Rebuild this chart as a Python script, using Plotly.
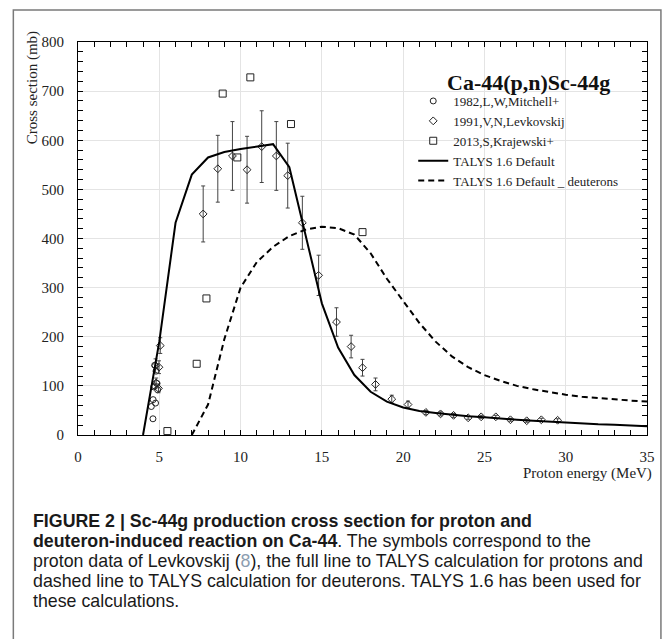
import plotly.graph_objects as go

# ---------------- data ----------------
mitchell_e = [4.51, 4.61, 4.62, 4.70, 4.77, 4.66, 4.72, 4.85, 4.90, 4.80]
mitchell_xs = [58, 33, 72, 100, 65, 98, 142, 105, 92, 130]

levk_e = [4.77, 4.81, 4.95, 4.98, 5.06, 7.7, 8.6, 9.5, 10.4, 11.3, 12.2, 12.9, 13.8, 14.8,
          15.9, 16.8, 17.5, 18.3, 19.3, 20.3, 21.4, 22.3, 23.1, 24.0, 24.8, 25.7,
          26.6, 27.6, 28.5, 29.5]
levk_xs = [141, 106, 95, 138, 182, 450, 542, 568, 540, 587, 568, 528, 432, 325,
           230, 180, 137, 103, 73, 62, 46, 43, 40, 35, 37, 37,
           31, 29, 31, 30]
levk_err = [14, 10, 9, 13, 16, 57, 68, 70, 68, 73, 70, 66, 54, 41,
            29, 23, 17, 13, 8, 7, 4, 4, 4, 3, 3, 3,
            3, 3, 3, 3]

kraj_e = [5.5, 7.3, 7.9, 8.9, 9.8, 10.6, 13.1, 17.5]
kraj_xs = [8, 145, 278, 695, 565, 728, 633, 413]

talys_e = [4, 5, 6, 7, 8, 9, 10, 11, 12, 13, 14, 15, 16, 17, 18, 19, 20, 21, 22, 23,
           24, 25, 26, 27, 28, 29, 30, 31, 32, 33, 34, 35]
talys_xs = [0, 190, 432, 530, 565, 576, 582, 587, 592, 545, 408, 268, 178, 122, 88, 68,
            56, 49, 45, 41, 38, 36, 33, 31, 29, 27, 26, 24, 22, 21, 19, 18]

deut_e = [7, 8, 9, 10, 11, 12, 13, 14, 15, 16, 17, 18, 19, 20, 21, 22, 23, 24, 25, 26,
          27, 28, 29, 30, 31, 32, 33, 34, 35]
deut_xs = [0, 62, 195, 300, 352, 383, 405, 418, 424, 421, 408, 370, 318, 272, 228, 190,
           160, 138, 122, 110, 100, 93, 87, 82, 78, 75, 73, 70, 68]

x_ticks = [0, 5, 10, 15, 20, 25, 30, 35]
y_ticks = [0, 100, 200, 300, 400, 500, 600, 700, 800]

legend_names = ["1982,L,W,Mitchell+", "1991,V,N,Levkovskij", "2013,S,Krajewski+",
                "TALYS 1.6 Default", "TALYS 1.6 Default _ deuterons"]

caption_lines = [
    "<b>FIGURE 2 | Sc-44g production cross section for proton and</b>",
    "<b>deuteron-induced reaction on Ca-44</b>. The symbols correspond to the",
    "proton data of Levkovskij (<span style='color:#8c9db0'>8</span>), the full line to TALYS calculation for protons and",
    "dashed line to TALYS calculation for deuterons. TALYS 1.6 has been used for",
    "these calculations.",
]

# ---------------- layout geometry (pixels) ----------------
W, H = 667, 639
L, R, T, B = 78, 650, 42, 435


def px(x):
    return (x - L) / (R - L)


def py(y):
    return (B - y) / (B - T)


SERIF = "Liberation Serif, Times New Roman, serif"
SANS = "Liberation Sans, Arial, sans-serif"

fig = go.Figure()

fig.add_trace(go.Scatter(
    x=mitchell_e, y=mitchell_xs, mode="markers", name=legend_names[0],
    marker=dict(symbol="circle-open", size=6, color="#222", line=dict(width=1)),
))
fig.add_trace(go.Scatter(
    x=levk_e, y=levk_xs, mode="markers", name=legend_names[1],
    marker=dict(symbol="diamond-open", size=6, color="#222", line=dict(width=1)),
    error_y=dict(type="data", array=levk_err, visible=True, color="#444",
                 thickness=1, width=2),
))
fig.add_trace(go.Scatter(
    x=kraj_e, y=kraj_xs, mode="markers", name=legend_names[2],
    marker=dict(symbol="square-open", size=7, color="#222", line=dict(width=1)),
))
fig.add_trace(go.Scatter(
    x=talys_e, y=talys_xs, mode="lines", name=legend_names[3],
    line=dict(color="black", width=2),
))
fig.add_trace(go.Scatter(
    x=deut_e, y=deut_xs, mode="lines", name=legend_names[4],
    line=dict(color="black", width=2, dash="6px,4px"),
))

axis_common = dict(
    showline=True, linecolor="black", linewidth=1, mirror="allticks",
    ticks="inside", ticklen=5, tickcolor="black", tickwidth=1,
    showgrid=True, gridcolor="#e4e4e4", gridwidth=1, zeroline=False,
    tickfont=dict(family=SERIF, size=15, color="#222"),
)

fig.update_xaxes(range=[0, 35], tickvals=x_ticks, ticklabelstandoff=8,
                 minor=dict(dtick=1, ticks="inside", ticklen=5, tickcolor="black",
                            showgrid=False),
                 **axis_common)
fig.update_yaxes(range=[0, 800], tickvals=y_ticks, ticklabelstandoff=10,
                 minor=dict(dtick=20, ticks="inside", ticklen=5, tickcolor="black",
                            showgrid=False),
                 **axis_common)

annotations = [
    dict(text="Cross section (mb)", x=px(32), y=py(88), xref="paper", yref="paper",
         textangle=-90, showarrow=False, xanchor="center", yanchor="middle",
         font=dict(family=SERIF, size=15, color="#222")),
    dict(text="Proton energy (MeV)", x=px(657), y=py(473), xref="paper", yref="paper",
         showarrow=False, xanchor="right", yanchor="middle",
         font=dict(family=SERIF, size=15, color="#222")),
    dict(text="<b>Ca-44(p,n)Sc-44g</b>", x=px(447), y=py(82), xref="paper", yref="paper",
         showarrow=False, xanchor="left", yanchor="middle",
         font=dict(family=SERIF, size=22, color="#111")),
]
cap_y = [521, 541, 561, 581, 601]
for line, yy in zip(caption_lines, cap_y):
    annotations.append(dict(text=line, x=px(31), y=py(yy), xref="paper", yref="paper",
                            showarrow=False, xanchor="left", yanchor="middle",
                            font=dict(family=SANS, size=17.8, color="#1a1a1a")))

fig.update_layout(
    width=W, height=H,
    margin=dict(l=L, r=W - R, t=T, b=H - B, pad=0),
    paper_bgcolor="white", plot_bgcolor="white",
    showlegend=True,
    legend=dict(x=px(415), y=py(86), xanchor="left", yanchor="top",
                bgcolor="rgba(0,0,0,0)", borderwidth=0,
                font=dict(family=SERIF, size=13, color="#222"),
                itemwidth=30, tracegroupgap=0),
    annotations=annotations,
    shapes=[dict(type="rect", xref="paper", yref="paper",
                 x0=px(13), x1=px(664), y0=py(645), y1=py(10),
                 line=dict(color="#7a7a7a", width=1.5), fillcolor="rgba(0,0,0,0)")],
)

fig.write_html("out.html", config={"displayModeBar": False},
               post_script="document.body.style.margin='0';document.body.style.overflow='hidden';")
